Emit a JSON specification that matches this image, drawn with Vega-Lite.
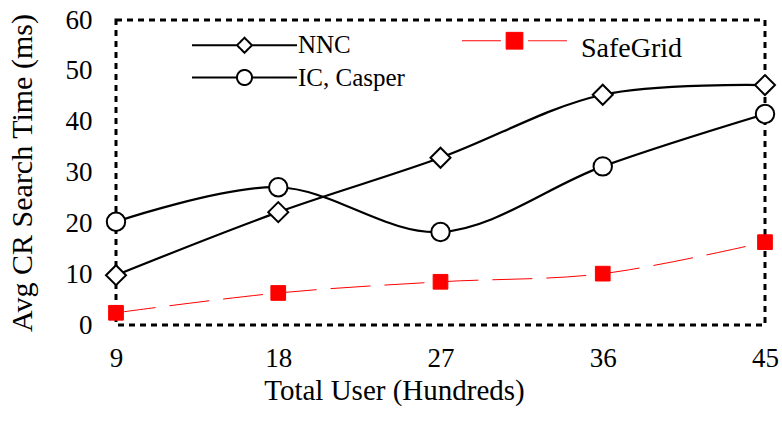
{
  "$schema": "https://vega.github.io/schema/vega-lite/v6.json",
  "width": 649,
  "height": 305,
  "autosize": "none",
  "padding": {"left": 116, "top": 20, "right": 17, "bottom": 98},
  "background": "white",
  "config": {
    "font": "Liberation Serif",
    "view": {"stroke": "black", "strokeWidth": 3, "strokeDash": [6, 5]},
    "axis": {
      "grid": false, "domain": false, "ticks": false, "tickSize": 0, "labelFlush": false,
      "labelFont": "Liberation Serif", "labelFontSize": 27, "labelColor": "black",
      "titleFont": "Liberation Serif", "titleFontWeight": "normal", "titleColor": "black"
    }
  },
  "data": {
    "values": [
      {"users": 9, "time": 9.8, "series": "NNC"},
      {"users": 18, "time": 22.2, "series": "NNC"},
      {"users": 27, "time": 32.9, "series": "NNC"},
      {"users": 36, "time": 45.3, "series": "NNC"},
      {"users": 45, "time": 47.2, "series": "NNC"},
      {"users": 9, "time": 20.3, "series": "IC, Casper"},
      {"users": 18, "time": 27.1, "series": "IC, Casper"},
      {"users": 27, "time": 18.3, "series": "IC, Casper"},
      {"users": 36, "time": 31.2, "series": "IC, Casper"},
      {"users": 45, "time": 41.5, "series": "IC, Casper"},
      {"users": 9, "time": 2.4, "series": "SafeGrid"},
      {"users": 18, "time": 6.3, "series": "SafeGrid"},
      {"users": 27, "time": 8.5, "series": "SafeGrid"},
      {"users": 36, "time": 10.1, "series": "SafeGrid"},
      {"users": 45, "time": 16.3, "series": "SafeGrid"}
    ]
  },
  "encoding": {
    "x": {
      "field": "users", "type": "quantitative",
      "scale": {"domain": [9, 45], "nice": false, "zero": false},
      "axis": {"values": [9, 18, 27, 36, 45], "labelPadding": 20, "titlePadding": 5, "titleFontSize": 29, "titleX": 278, "titleAnchor": "start", "titleAlign": "center", "title": "Total User (Hundreds)"}
    },
    "y": {
      "field": "time", "type": "quantitative",
      "scale": {"domain": [0, 60], "nice": false},
      "axis": {"values": [0, 10, 20, 30, 40, 50, 60], "labelPadding": 24, "titlePadding": 28, "titleFontSize": 30, "title": "Avg CR Search Time (ms)"}
    }
  },
  "layer": [
    {
      "transform": [{"filter": "datum.series !== 'SafeGrid'"}],
      "mark": {"type": "line", "interpolate": "catmull-rom", "strokeWidth": 2.2},
      "encoding": {
        "color": {
          "field": "series", "type": "nominal",
          "scale": {"domain": ["NNC", "IC, Casper", "SafeGrid"], "range": ["black", "black", "red"]},
          "legend": {
            "title": null, "orient": "none", "direction": "vertical", "legendX": 116, "legendY": 8,
            "columns": 2, "columnPadding": 55, "rowPadding": 2, "padding": 0,
            "symbolSize": 11025, "symbolStrokeWidth": 2,
            "labelFont": "Liberation Serif", "labelFontSize": 25, "labelColor": "black", "labelOffset": 41,
            "encode": {
              "symbols": {
                "update": {
                  "shape": {"signal": "datum.value === 'NNC' ? 'M-1,0H-0.143M0.143,0H1M-0.143,0L0,-0.143L0.143,0L0,0.143Z' : datum.value === 'SafeGrid' ? 'M-1,0H-0.26M0.26,0H1M-0.16,-0.16H0.16V0.16H-0.16Z' : 'M-1,0H-0.143M0.143,0H1M-0.143,0A0.143,0.143,0,1,0,0.143,0A0.143,0.143,0,1,0,-0.143,0Z'"},
                  "size": {"value": 11025},
                  "fill": {"signal": "datum.value === 'SafeGrid' ? 'red' : 'white'"},
                  "strokeWidth": {"signal": "datum.value === 'SafeGrid' ? 1 : 2"},
                  "strokeDash": {"value": [1, 0]},
                  "opacity": {"value": 1}
                }
              },
              "labels": {
                "update": {
                  "fontSize": {"signal": "datum.value === 'SafeGrid' ? 28 : 25"},
                  "dy": {"signal": "datum.value === 'SafeGrid' ? 8 : 0"},
                  "dx": {"signal": "datum.value === 'SafeGrid' ? 13 : 0"}
                }
              }
            }
          }
        }
      }
    },
    {
      "transform": [{"filter": "datum.series === 'SafeGrid'"}],
      "mark": {"type": "line", "interpolate": "catmull-rom", "strokeWidth": 1, "color": "red", "strokeDash": [40, 14]}
    },
    {
      "transform": [{"filter": "datum.series === 'NNC'"}],
      "mark": {"type": "point", "shape": "diamond", "size": 400, "filled": true, "fill": "white", "stroke": "black", "strokeWidth": 2, "opacity": 1}
    },
    {
      "transform": [{"filter": "datum.series === 'IC, Casper'"}],
      "mark": {"type": "point", "shape": "circle", "size": 340, "filled": true, "fill": "white", "stroke": "black", "strokeWidth": 2, "opacity": 1}
    },
    {
      "transform": [{"filter": "datum.series === 'SafeGrid'"}],
      "mark": {"type": "point", "shape": "square", "size": 216, "filled": true, "fill": "red", "stroke": "red", "strokeWidth": 1, "opacity": 1}
    }
  ]
}
